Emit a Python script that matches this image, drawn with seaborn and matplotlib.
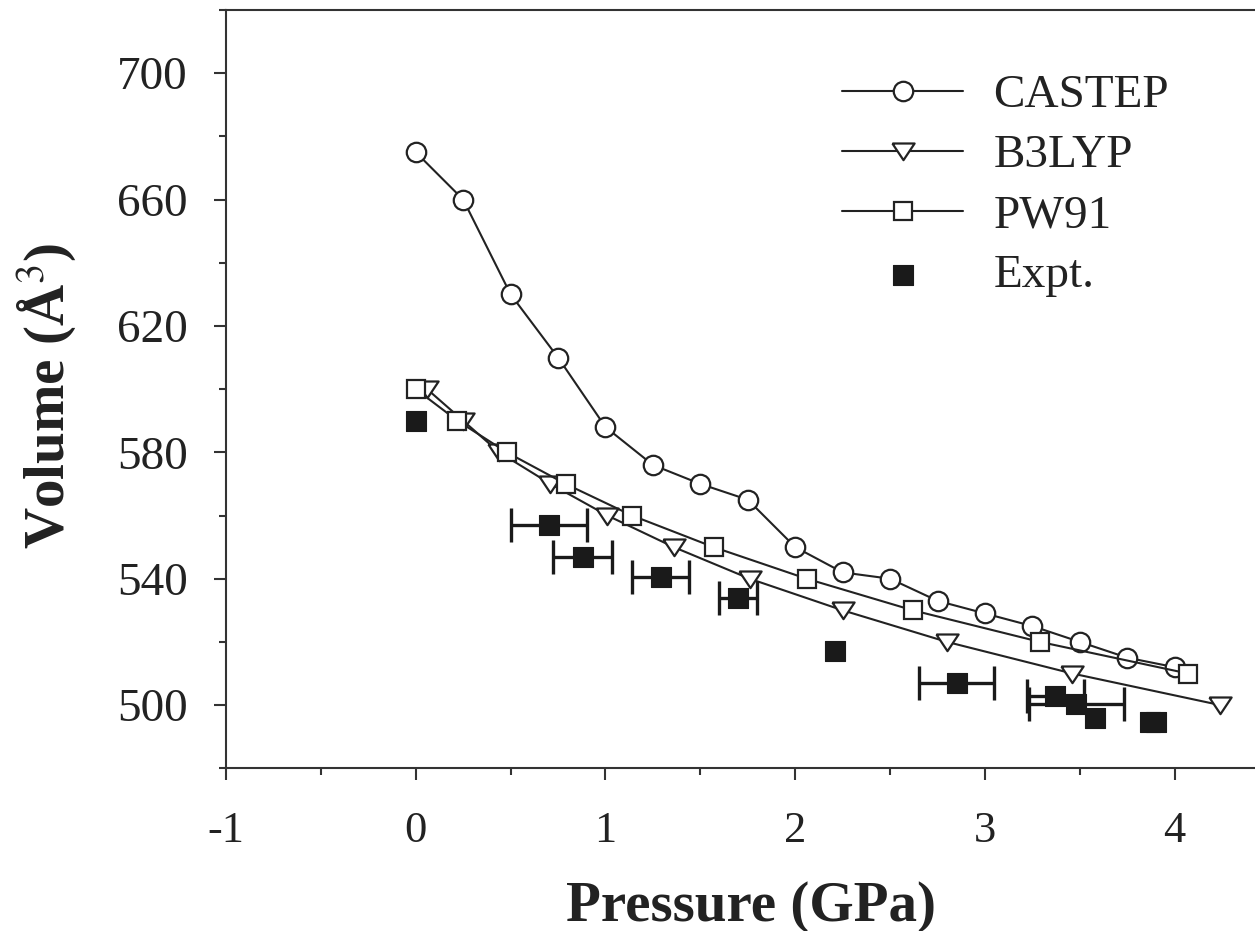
import matplotlib
matplotlib.use("Agg")
import matplotlib.pyplot as plt
from matplotlib.ticker import MultipleLocator, FixedLocator
import seaborn as sns
import numpy as np

# ---- data ----
castep_p = [0.0, 0.25, 0.5, 0.75, 1.0, 1.25, 1.5, 1.75, 2.0, 2.25, 2.5, 2.75, 3.0, 3.25, 3.5, 3.75, 4.0]
castep_v = [675, 660, 630, 610, 588, 576, 570, 565, 550, 542, 540, 533, 529, 525, 520, 515, 512]

b3lyp_p = [0.06, 0.25, 0.44, 0.71, 1.01, 1.36, 1.76, 2.25, 2.80, 3.46, 4.24]
b3lyp_v = [600, 590, 580, 570, 560, 550, 540, 530, 520, 510, 500]

pw91_p = [0.0, 0.22, 0.48, 0.79, 1.14, 1.57, 2.06, 2.62, 3.29, 4.07]
pw91_v = [600, 590, 580, 570, 560, 550, 540, 530, 520, 510]

expt_p = [0.0, 0.70, 0.88, 1.29, 1.70, 2.21, 2.85, 3.37, 3.48, 3.58, 3.87, 3.90]
expt_v = [590, 557, 547, 540.5, 534, 517, 507, 503, 500.5, 496, 494.6, 494.6]
expt_perr = [0, 0.20, 0.155, 0.15, 0.10, 0, 0.20, 0.15, 0.25, 0, 0, 0]

x_ticks = [-1, 0, 1, 2, 3, 4]
y_ticks = [500, 540, 580, 620, 660, 700]

sns.set_theme(style="ticks")
plt.rcParams["font.family"] = ["Liberation Serif", "DejaVu Serif"]
plt.rcParams["mathtext.fontset"] = "stix"

ink = "#222222"
fig = plt.figure(figsize=(12.55, 9.31), dpi=100)
ax = fig.add_axes([226 / 1255, 1 - 768.3 / 931, (1255 - 226) / 1255, (768.3 - 10) / 931])

tri = [(-1, 0.72), (1, 0.72), (0, -0.78), (-1, 0.72)]

line_kw = dict(color=ink, linewidth=1.5, markerfacecolor="white",
               markeredgecolor=ink, markeredgewidth=1.6)

sns.lineplot(x=castep_p, y=castep_v, ax=ax, marker="o", markersize=14,
             label="CASTEP", zorder=3, **line_kw)
sns.lineplot(x=b3lyp_p, y=b3lyp_v, ax=ax, marker=tri, markersize=16,
             label="B3LYP", zorder=3, **line_kw)
sns.lineplot(x=pw91_p, y=pw91_v, ax=ax, marker="s", markersize=12.8,
             label="PW91", zorder=4, **line_kw)

# error bars only where an error is shown
eb = [(p, v, e) for p, v, e in zip(expt_p, expt_v, expt_perr) if e > 0]
ax.errorbar([a[0] for a in eb], [a[1] for a in eb], xerr=[a[2] for a in eb],
            fmt="none", ecolor="#1a1a1a", elinewidth=2.4, capsize=12, capthick=2.4,
            zorder=5)
sns.scatterplot(x=expt_p, y=expt_v, ax=ax, marker="s", s=215, color="#1a1a1a",
                edgecolor="#1a1a1a", linewidth=0.8, label="Expt.", zorder=6)

ax.set_xlim(-1, 4.423)
ax.set_ylim(480, 720)
ax.xaxis.set_major_locator(FixedLocator(x_ticks))
ax.xaxis.set_minor_locator(MultipleLocator(0.5))
ax.yaxis.set_major_locator(FixedLocator(y_ticks))
ax.yaxis.set_minor_locator(MultipleLocator(20))
ax.set_xticklabels([str(t) for t in x_ticks])
ax.set_yticklabels([str(t) for t in y_ticks])

for s in ["left", "bottom", "top"]:
    ax.spines[s].set_visible(True)
    ax.spines[s].set_linewidth(1.5)
    ax.spines[s].set_color("#333333")
ax.spines["right"].set_visible(False)

ax.tick_params(axis="both", which="major", direction="out", length=8.6, width=1.5,
               color="#333333", labelcolor=ink, top=False, right=False)
ax.tick_params(axis="both", which="minor", direction="out", length=5, width=1.5,
               color="#333333", top=False, right=False)
ax.tick_params(axis="x", which="major", pad=22, labelsize=32)
ax.tick_params(axis="y", which="major", pad=19, labelsize=34)

ax.set_xlabel("Pressure (GPa)", fontsize=41, fontweight="bold", color=ink)
ax.set_ylabel("Volume (Å$^{3}$)", fontsize=41, fontweight="bold", color=ink)
ax.xaxis.set_label_coords(0.51, -0.183)
ax.xaxis.label.set_va("center")
ax.yaxis.set_label_coords(-0.174, 0.491)
ax.yaxis.label.set_va("center")

leg = ax.legend(loc="upper left", bbox_to_anchor=(0.599, 0.9156), frameon=False,
                fontsize=34, handlelength=2.56, handletextpad=0.64,
                labelspacing=0.36, borderpad=0, borderaxespad=0, numpoints=1)
for t in leg.get_texts():
    t.set_color(ink)

ax.grid(False)
fig.savefig("out.png", dpi=100)
